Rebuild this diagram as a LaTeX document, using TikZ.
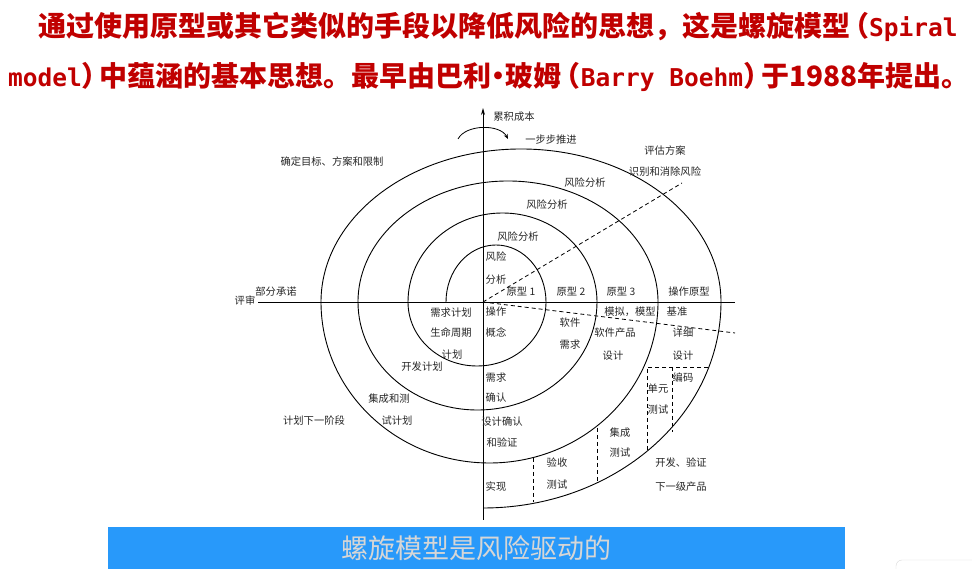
\documentclass[tikz,border=0pt]{standalone}
\usepackage{fontspec}
\newfontfamily\cjk{Noto Sans CJK SC}
\newfontfamily\latmono{DejaVu Sans Mono}
\usetikzlibrary{arrows.meta}
\definecolor{titlered}{RGB}{192,0,0}
\definecolor{bannerblue}{RGB}{40,153,250}
\definecolor{bannertext}{RGB}{214,214,214}
\newcommand{\titlelat}[1]{{\latmono\fontsize{24.5}{30}\selectfont #1}}
\newcommand{\lpar}{\makebox[19pt][r]{（}}
\newcommand{\rpar}{\makebox[18pt][l]{）}}
\newcommand{\middot}{\makebox[14pt]{·}}
\newcommand{\lastdot}{\makebox[14pt][l]{。}}
\tikzset{
  titletext/.style={font=\cjk\bfseries\fontsize{28}{32}\selectfont, text=titlered, inner sep=0pt},
  lbl/.style={font=\cjk\fontsize{10.3}{12}\selectfont, text=black!85, inner sep=0pt},
  axis/.style={line width=0.9pt},
  spiral/.style={line width=0.9pt},
  dashline/.style={line width=0.8pt, dash pattern=on 4pt off 3pt}
}

\begin{document}
\begin{tikzpicture}[x=1pt, y=1pt]
    \useasboundingbox (0,0) rectangle (972,569);
    % heading
    \node[titletext, anchor=west] (line1) at (38,542)
        {通过使用原型或其它类似的手段以降低风险的思想，这是螺旋模型\lpar\titlelat{Spiral}};
    \node[titletext, anchor=west] (line2) at (8,492)
        {\titlelat{model}\rpar 中蕴涵的基本思想。最早由巴利\middot 玻姆\lpar\titlelat{Barry Boehm}\rpar 于1988年提出\lastdot};
    % axes
    \coordinate (O) at (483,267);
    \coordinate (xl) at (258,267);
    \coordinate (xr) at (735,267);
    \coordinate (yb) at (483,49);
    \coordinate (yt) at (483,461);
    \draw[axis] (xl) -- (xr);
    \draw[axis, -{Stealth[length=7pt, width=4pt]}] (yb) -- (yt);
    % turning arrow at the top
    \coordinate (turnA) at (458,430);
    \coordinate (turnB) at (508,430);
    \draw[line width=0.8pt, -{Stealth[length=5pt, width=4pt]}]
        (turnA) .. controls (466,445) and (500,445) .. (turnB);
    % the spiral, upper and lower half ellipses
    \draw[spiral] (446,267)
        arc[start angle=180, end angle=0, x radius=50, y radius=57]
        arc[start angle=0, end angle=-180, x radius=69, y radius=64]
        arc[start angle=180, end angle=0, x radius=94.5, y radius=89]
        arc[start angle=0, end angle=-180, x radius=119.5, y radius=108]
        arc[start angle=180, end angle=0, x radius=150, y radius=121]
        arc[start angle=0, end angle=-180, x radius=168.5, y radius=161]
        arc[start angle=180, end angle=0, x radius=200, y radius=153]
        arc[start angle=0, end angle=-90, x radius=238, y radius=206];
    % dashed dividers
    \draw[dashline] (O) -- (682,386);
    \draw[dashline] (O) -- (735,236);
    \draw[dashline] (533,111) -- (533,67);
    \draw[dashline] (597,141) -- (597,87);
    \draw[dashline] (708,202) -- (647,202) -- (647,117);
    \draw[dashline] (672,202) -- (672,137);
    % labels
    \foreach \n/\x/\y/\t in {
        goal/332/407/确定目标、方案和限制, commit/276/277/部分承诺, review/245/268/评审,
        cost/514/452/累积成本, stepon/551/429/一步步推进,
        evalalt/665/418/评估方案, resolve/665/397/识别和消除风险,
        riskd/585/386/风险分析, riskc/547/364/风险分析, riskb/518/332/风险分析,
        riskaa/496/312/风险, riskab/496/289/分析,
        protoa/521/277/原型 1, protob/571/277/原型 2, protoc/621/277/原型 3, protod/689/277/操作原型,
        opera/496/257/操作, operb/496/236/概念,
        simul/630/257/模拟，模型, bench/677/257/基准,
        swreqa/570/246/软件, swreqb/570/224/需求,
        proda/615/236/软件产品, prodb/613/213/设计,
        deta/683/236/详细, detb/683/213/设计, code/683/191/编码,
        unita/658/180/单元, unitb/658/159/测试,
        reqva/496/191/需求, reqvb/496/171/确认,
        desva/502/147/设计确认, desvb/502/126/和验证,
        inta/620/136/集成, intb/620/116/测试,
        acca/557/106/验收, accb/557/84/测试,
        impl/496/82/实现,
        deva/681/106/开发、验证, devb/681/82/下一级产品,
        plana/451/256/需求计划, planb/451/236/生命周期, planc/452/214/计划,
        devplan/422/202/开发计划,
        itpa/389/170/集成和测, itpb/397/148/试计划,
        nextp/314/148/计划下一阶段}
        \node[lbl] (\n) at (\x,\y) {\t};
    % banner
    \node[fill=bannerblue, minimum width=737pt, minimum height=42pt, inner sep=0pt,
          anchor=south west, text=bannertext, font=\cjk\fontsize{27}{30}\selectfont]
        (banner) at (108,0) {螺旋模型是风险驱动的};
    \draw[black!15, rounded corners=6pt] (980,9) -- (896,9) -- (896,-8);
\end{tikzpicture}
\end{document}
